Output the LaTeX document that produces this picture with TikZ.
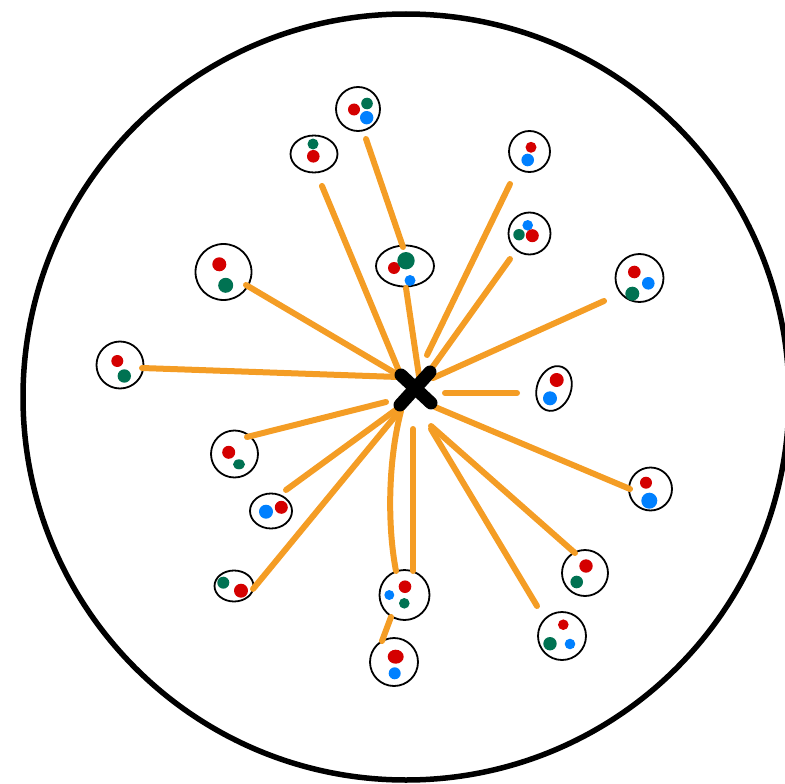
\documentclass[tikz,border=0pt]{standalone}
\usetikzlibrary{shapes.geometric}
\definecolor{dred}{RGB}{212,0,0}
\definecolor{dgreen}{RGB}{0,114,82}
\definecolor{dblue}{RGB}{0,128,255}
\definecolor{lorange}{RGB}{244,157,37}
\tikzset{
  ring/.style={draw=black, line width=1.8pt, circle, inner sep=0pt, minimum size=#1},
  oval/.style={draw=black, line width=1.8pt, ellipse, inner sep=0pt},
  link/.style={draw=lorange, line width=6pt, line cap=round},
  rd/.style={fill=dred},
  gr/.style={fill=dgreen},
  bl/.style={fill=dblue},
}
\begin{document}
\begin{tikzpicture}[x=1pt,y=-1pt]
\useasboundingbox (0,0) rectangle (785,784);
\clip (0,0) rectangle (785,784);
% big circle
\node[draw=black, line width=5.5pt, circle, inner sep=0pt, minimum size=766pt] (big) at (406,397) {};

% small groups
\node[ring=44pt] (c1) at (358,109) {};
\node[oval, minimum width=47pt, minimum height=37pt] (c2) at (314,154) {};
\node[oval, minimum width=58pt, minimum height=41pt] (c3) at (405,266) {};
\node[ring=41pt] (c4) at (529.5,151.5) {};
\node[ring=42pt] (c5) at (529.5,233.5) {};
\node[ring=48pt] (c6) at (639.5,278) {};
\node[ring=56pt] (c7) at (223.5,272) {};
\node[ring=47pt] (c8) at (120,365) {};
\node[oval, minimum width=34pt, minimum height=46pt, rotate=-20] (c9) at (554,388.5) {};
\node[ring=47pt] (c10) at (234.5,454) {};
\node[oval, minimum width=42pt, minimum height=35pt] (c11) at (271,511) {};
\node[oval, minimum width=39pt, minimum height=31pt] (c12) at (234,586) {};
\node[ring=50pt] (c13) at (404.5,595) {};
\node[ring=48pt] (c14) at (394,662) {};
\node[ring=43pt] (c15) at (650.5,489) {};
\node[ring=46pt] (c16) at (585,573) {};
\node[ring=48pt] (c17) at (562,636) {};

% dots
\fill[rd] (354,109.5) circle (6pt);
\fill[gr] (367,103.5) circle (5.8pt);
\fill[bl] (366.7,117.7) circle (6.7pt);

\fill[gr] (313,144) circle (5.5pt);
\fill[rd] (313.3,156.3) circle (6.3pt);

\fill[rd] (394,268) circle (6pt);
\fill[bl] (410,280.5) circle (5.5pt);
\fill[gr] (406,260.7) circle (8.7pt);

\fill[rd] (531,147.3) circle (5.5pt);
\fill[bl] (527.7,160) circle (6.3pt);

\fill[bl] (527.7,225.3) circle (5.3pt);
\fill[gr] (519,234.7) circle (5.7pt);
\fill[rd] (532.3,235.7) circle (6.5pt);

\fill[rd] (634.3,272) circle (6.3pt);
\fill[bl] (648.3,283.3) circle (6.3pt);
\fill[gr] (632.3,293.7) circle (7pt);

\fill[rd] (219.3,264.3) circle (7pt);
\fill[gr] (225.7,285.3) circle (7.5pt);

\fill[rd] (117.3,361) circle (6pt);
\fill[gr] (124.3,376) circle (6.7pt);

\fill[rd] (556.7,380) circle (7pt);
\fill[bl] (550,398.3) circle (7pt);

\fill[rd] (228.7,452.3) circle (6.5pt);
\fill[gr] (239,464.3) ellipse [x radius=6pt, y radius=5pt];

\fill[bl] (266,511.7) circle (7pt);
\fill[rd] (281.3,507.3) circle (6.5pt);

\fill[gr] (223.3,582.7) circle (6pt);
\fill[rd] (241,590.7) circle (7pt);

\fill[rd] (405,586.7) circle (6.3pt);
\fill[bl] (389.3,595) circle (5pt);
\fill[gr] (404.3,603.3) circle (5.3pt);

\fill[rd] (395.7,656.7) ellipse [x radius=8pt, y radius=7pt];
\fill[bl] (394.7,673.3) circle (6pt);

\fill[rd] (646,482.7) circle (6pt);
\fill[bl] (649.3,500.7) circle (8pt);

\fill[rd] (586,566) circle (6.7pt);
\fill[gr] (576.7,582) circle (6.3pt);

\fill[rd] (563.3,624.7) circle (5.3pt);
\fill[gr] (550,643.7) circle (6.7pt);
\fill[bl] (570,644) circle (5.3pt);

% connector end points
\coordinate (a1) at (366,139); \coordinate (a2) at (403,247);
\coordinate (b1) at (322,186); \coordinate (b2) at (401,376);
\coordinate (c1e) at (406,288); \coordinate (c2e) at (419,376);
\coordinate (d1) at (510,184); \coordinate (d2) at (427,355);
\coordinate (e1) at (510,259); \coordinate (e2) at (429,372);
\coordinate (f1) at (604,301); \coordinate (f2) at (433,378);
\coordinate (g1) at (246,285); \coordinate (g2) at (400,376);
\coordinate (h1) at (142,368); \coordinate (h2) at (398,377);
\coordinate (i1) at (445,393); \coordinate (i2) at (517,393);
\coordinate (j1) at (247,437); \coordinate (j2) at (386,402);
\coordinate (k1) at (286,490); \coordinate (k2) at (397,409);
\coordinate (l1) at (253,589); \coordinate (l2) at (402,408);
\coordinate (m1) at (401,411); \coordinate (m2) at (396,571);
\coordinate (n1) at (413,429); \coordinate (n2) at (413,571);
\coordinate (o1) at (431,426); \coordinate (o2) at (575,553);
\coordinate (p1) at (431,429); \coordinate (p2) at (537,606);
\coordinate (q1) at (435,407); \coordinate (q2) at (630,489);
\coordinate (r1) at (391,617); \coordinate (r2) at (382,641);

\draw[link] (a1) -- (a2);
\draw[link] (b1) -- (b2);
\draw[link] (c1e) -- (c2e);
\draw[link] (d1) -- (d2);
\draw[link] (e1) -- (e2);
\draw[link] (f1) -- (f2);
\draw[link] (g1) -- (g2);
\draw[link] (h1) -- (h2);
\draw[link] (i1) -- (i2);
\draw[link] (j1) -- (j2);
\draw[link] (k1) -- (k2);
\draw[link] (l1) -- (l2);
\draw[link] (m1) .. controls (387,465) and (388,530) .. (m2);
\draw[link] (n1) -- (n2);
\draw[link] (o1) -- (o2);
\draw[link] (p1) -- (p2);
\draw[link] (q1) -- (q2);
\draw[link] (r1) -- (r2);

% centre cross
\coordinate (x1) at (401,375); \coordinate (x2) at (431,403);
\coordinate (x3) at (430,372); \coordinate (x4) at (400,405);
\draw[black, line width=13pt, line cap=round] (x1) -- (x2);
\draw[black, line width=13pt, line cap=round] (x3) -- (x4);
\end{tikzpicture}
\end{document}
